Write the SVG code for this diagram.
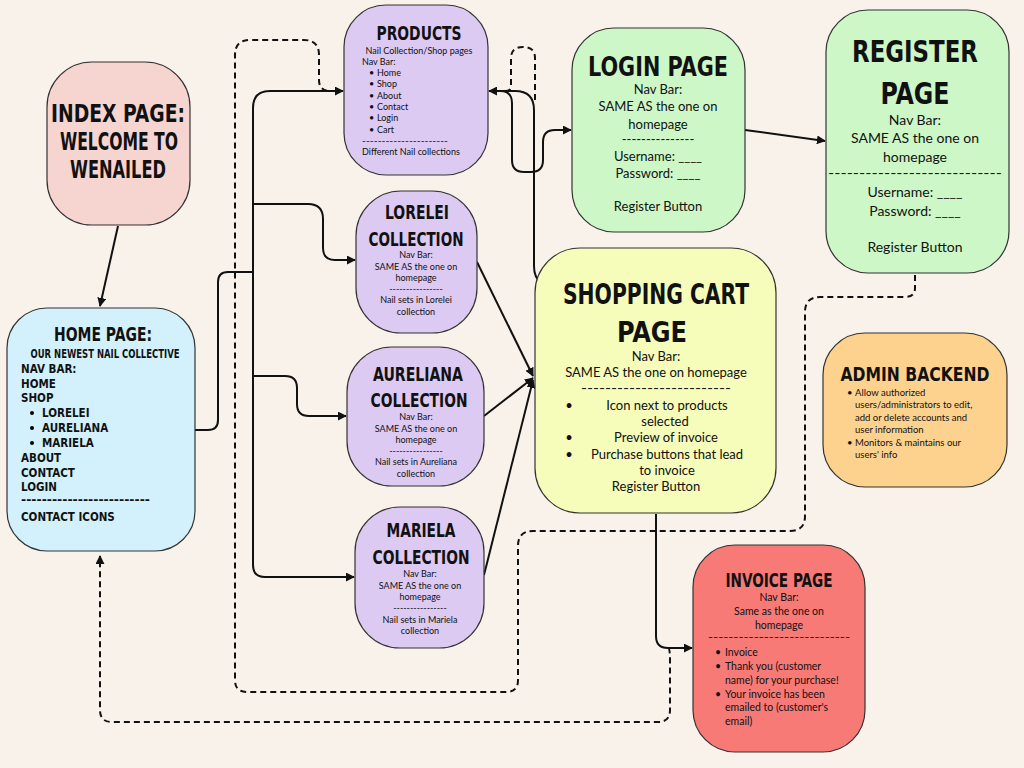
<svg xmlns="http://www.w3.org/2000/svg" width="1024" height="768" viewBox="0 0 1024 768">
<defs>
<marker id="ah" viewBox="0 0 10 10" refX="9" refY="5" markerWidth="9" markerHeight="9" markerUnits="userSpaceOnUse" orient="auto">
<path d="M0,0 L10,5 L0,10 Z" fill="#111"/>
</marker>
<style>
.node{stroke:#333;stroke-width:1.2}
.t{font-family:"Liberation Sans Narrow","DejaVu Sans Condensed","Liberation Sans",sans-serif;font-weight:bold;fill:#111;text-anchor:middle}
.b{font-family:Lato,"Noto Sans","Liberation Sans",sans-serif;fill:#111}
.c{text-anchor:middle}
.h{font-family:"Liberation Sans Narrow","DejaVu Sans Condensed","Liberation Sans",sans-serif;font-weight:bold;fill:#111;font-size:11.5px}
.ln{fill:none;stroke:#111;stroke-width:2}
.ds{fill:none;stroke:#111;stroke-width:2;stroke-dasharray:6 4}
.pur{fill:#dccaf2}
.grn{fill:#cdf7c7}
</style>
</defs>
<rect width="1024" height="768" fill="#f9f2ea"/>

<g id="connectors">
<path class="ln" d="M118 226 L100 306" marker-end="url(#ah)"/>
<path class="ln" d="M195 430 L208 430 Q218 430 218 420 L218 282 Q218 272 228 272 L253 272"/>
<path class="ln" d="M253 565 L253 108 Q253 91 270 91 L343 91" marker-end="url(#ah)"/>
<path class="ln" d="M253 565 Q253 577 265 577 L354 577" marker-end="url(#ah)"/>
<path class="ln" d="M253 204 L308 204 Q323 204 323 219 L323 248 Q323 260 335 260 L355 260" marker-end="url(#ah)"/>
<path class="ln" d="M253 376 L285 376 Q297 376 297 388 L297 404 Q297 416 309 416 L346 416" marker-end="url(#ah)"/>
<path class="ln" d="M477 262 L533 376" marker-end="url(#ah)"/>
<path class="ln" d="M484 416 L533 378" marker-end="url(#ah)"/>
<path class="ln" d="M484 575 L533 380" marker-end="url(#ah)"/>
<path class="ln" d="M541 282 Q534 278 534 266 L534 110 Q534 91 515 91 L489 91" marker-end="url(#ah)"/>
<path class="ln" d="M500 91 Q512 91 512 103 L512 160 Q512 172 524 172 L531 172 Q543 172 543 160 L543 142 Q543 130 555 130 L571 130" marker-end="url(#ah)"/>
<path class="ds" d="M535 100 L535 58 Q535 47 523 47 Q511 47 511 58 L511 86 Q511 91 505 91"/>
<path class="ln" d="M745 130 L825 141" marker-end="url(#ah)"/>
<path class="ln" d="M656 514 L656 636 Q656 648 668 648 L692 648" marker-end="url(#ah)"/>
<path class="ds" d="M915 275 L915 288 Q915 297 905 297 L820 297 Q805 297 805 312 L805 516 Q805 531 790 531 L533 531 Q518 531 518 546 L518 680 Q518 692 506 692 L247 692 Q235 692 235 680 L235 55 Q235 40 250 40 L304 40 Q319 40 319 55 L319 80 Q319 91 330 91"/>
<path class="ds" d="M668 648 Q670 648 670 660 L670 710 Q670 722 658 722 L112 722 Q100 722 100 710 L100 556" marker-end="url(#ah)"/>
</g>

<g id="index">
<rect class="node" x="47" y="62" width="143" height="163" rx="45" fill="#f6d5d0"/>
<text class="t" x="118" y="122" font-size="24" textLength="134" lengthAdjust="spacingAndGlyphs">INDEX PAGE:</text>
<text class="t" x="119" y="150" font-size="24" textLength="118" lengthAdjust="spacingAndGlyphs">WELCOME TO</text>
<text class="t" x="118" y="178" font-size="24" textLength="96" lengthAdjust="spacingAndGlyphs">WENAILED</text>
</g>

<g id="home">
<rect class="node" x="7" y="308" width="188" height="243" rx="40" fill="#d2f1fd"/>
<text class="t" x="103" y="341" font-size="19" textLength="98" lengthAdjust="spacingAndGlyphs">HOME PAGE:</text>
<text class="h" x="105" y="358" text-anchor="middle" textLength="149" lengthAdjust="spacingAndGlyphs">OUR NEWEST NAIL COLLECTIVE</text>
<text class="h" x="21" y="373">NAV BAR:</text>
<text class="h" x="21" y="388">HOME</text>
<text class="h" x="21" y="402">SHOP</text>
<circle cx="32" cy="413" r="2"/>
<text class="h" x="42" y="417">LORELEI</text>
<circle cx="32" cy="428" r="2"/>
<text class="h" x="42" y="432">AURELIANA</text>
<circle cx="32" cy="443" r="2"/>
<text class="h" x="42" y="447">MARIELA</text>
<text class="h" x="21" y="462">ABOUT</text>
<text class="h" x="21" y="477">CONTACT</text>
<text class="h" x="21" y="491">LOGIN</text>
<text class="h" x="21" y="504" textLength="129" lengthAdjust="spacingAndGlyphs">-------------------------</text>
<text class="h" x="21" y="521">CONTACT ICONS</text>
</g>

<g id="products">
<rect class="node pur" x="344" y="5" width="144" height="170" rx="42"/>
<text class="t" x="419" y="40" font-size="20" textLength="85" lengthAdjust="spacingAndGlyphs">PRODUCTS</text>
<g class="b" font-size="9">
<text x="419" y="54" class="c">Nail Collection/Shop pages</text>
<text x="362" y="65">Nav Bar:</text>
<text x="369" y="76">•</text><text x="377" y="76">Home</text>
<text x="369" y="87">•</text><text x="377" y="87">Shop</text>
<text x="369" y="99">•</text><text x="377" y="99">About</text>
<text x="369" y="110">•</text><text x="377" y="110">Contact</text>
<text x="369" y="121">•</text><text x="377" y="121">Login</text>
<text x="369" y="133">•</text><text x="377" y="133">Cart</text>
<text x="362" y="144" textLength="86" lengthAdjust="spacingAndGlyphs">----------------------</text>
<text x="362" y="155">Different Nail collections</text>
</g>
</g>

<g id="lorelei">
<rect class="node pur" x="356" y="191" width="121" height="142" rx="45"/>
<text class="t" x="417" y="219" font-size="19" textLength="64" lengthAdjust="spacingAndGlyphs">LORELEI</text>
<text class="t" x="416" y="246" font-size="19" textLength="95" lengthAdjust="spacingAndGlyphs">COLLECTION</text>
<g class="b c" font-size="9" text-anchor="middle">
<text x="416" y="258">Nav Bar:</text>
<text x="416" y="270">SAME AS the one on</text>
<text x="416" y="281">homepage</text>
<text x="416" y="292">----------------</text>
<text x="416" y="303">Nail sets in Lorelei</text>
<text x="416" y="315">collection</text>
</g>
</g>

<g id="aureliana">
<rect class="node pur" x="347" y="347" width="137" height="139" rx="45"/>
<text class="t" x="418" y="381" font-size="19" textLength="90" lengthAdjust="spacingAndGlyphs">AURELIANA</text>
<text class="t" x="419" y="407" font-size="19" textLength="97" lengthAdjust="spacingAndGlyphs">COLLECTION</text>
<g class="b c" font-size="9" text-anchor="middle">
<text x="416" y="420">Nav Bar:</text>
<text x="416" y="432">SAME AS the one on</text>
<text x="416" y="443">homepage</text>
<text x="416" y="454">----------------</text>
<text x="416" y="465">Nail sets in Aureliana</text>
<text x="416" y="477">collection</text>
</g>
</g>

<g id="mariela">
<rect class="node pur" x="355" y="507" width="129" height="141" rx="45"/>
<text class="t" x="421" y="537" font-size="19" textLength="69" lengthAdjust="spacingAndGlyphs">MARIELA</text>
<text class="t" x="421" y="564" font-size="19" textLength="97" lengthAdjust="spacingAndGlyphs">COLLECTION</text>
<g class="b c" font-size="9" text-anchor="middle">
<text x="420" y="577">Nav Bar:</text>
<text x="420" y="589">SAME AS the one on</text>
<text x="420" y="600">homepage</text>
<text x="420" y="611">----------------</text>
<text x="420" y="623">Nail sets in Mariela</text>
<text x="420" y="634">collection</text>
</g>
</g>

<g id="login">
<rect class="node grn" x="572" y="28" width="173" height="204" rx="42"/>
<text class="t" x="658" y="76" font-size="27" textLength="140" lengthAdjust="spacingAndGlyphs">LOGIN PAGE</text>
<g class="b" font-size="13" text-anchor="middle">
<text x="658" y="94">Nav Bar:</text>
<text x="658" y="111">SAME AS the one on</text>
<text x="658" y="129">homepage</text>
<text x="658" y="144">---------------</text>
<text x="658" y="161">Username: ____</text>
<text x="658" y="178">Password: ____</text>
<text x="658" y="211">Register Button</text>
</g>
</g>

<g id="register">
<rect class="node grn" x="826" y="10" width="183" height="263" rx="42"/>
<text class="t" x="915" y="62" font-size="31" textLength="126" lengthAdjust="spacingAndGlyphs">REGISTER</text>
<text class="t" x="915" y="104" font-size="31" textLength="69" lengthAdjust="spacingAndGlyphs">PAGE</text>
<g class="b" font-size="14" text-anchor="middle">
<text x="915" y="125">Nav Bar:</text>
<text x="915" y="143">SAME AS the one on</text>
<text x="915" y="162">homepage</text>
<text x="915" y="178" textLength="174" lengthAdjust="spacingAndGlyphs">----------------------------</text>
<text x="915" y="197">Username: ____</text>
<text x="915" y="216">Password: ____</text>
<text x="915" y="252">Register Button</text>
</g>
</g>

<g id="cart">
<rect class="node" x="535" y="248" width="241" height="265" rx="45" fill="#f6fcb9"/>
<text class="t" x="656" y="304" font-size="29" textLength="186" lengthAdjust="spacingAndGlyphs">SHOPPING CART</text>
<text class="t" x="652" y="342" font-size="29" textLength="70" lengthAdjust="spacingAndGlyphs">PAGE</text>
<g class="b" font-size="13" text-anchor="middle">
<text x="656" y="361">Nav Bar:</text>
<text x="656" y="377">SAME AS the one on homepage</text>
<text x="656" y="393" textLength="150" lengthAdjust="spacingAndGlyphs">-------------------------</text>
<text x="569" y="410">•</text><text x="667" y="410">Icon next to products</text>
<text x="665" y="426">selected</text>
<text x="569" y="442">•</text><text x="666" y="442">Preview of invoice</text>
<text x="569" y="459">•</text><text x="667" y="459">Purchase buttons that lead</text>
<text x="667" y="475">to invoice</text>
<text x="656" y="491">Register Button</text>
</g>
</g>

<g id="admin">
<rect class="node" x="823" y="333" width="184" height="154" rx="42" fill="#fdd18e"/>
<text class="t" x="915" y="381" font-size="19" textLength="149" lengthAdjust="spacingAndGlyphs">ADMIN BACKEND</text>
<g class="b" font-size="9.5">
<text x="847" y="396">•</text><text x="855" y="396">Allow authorized</text>
<text x="855" y="408">users/administrators to edit,</text>
<text x="855" y="421">add or delete accounts and</text>
<text x="855" y="433">user information</text>
<text x="847" y="446">•</text><text x="855" y="446">Monitors &amp; maintains our</text>
<text x="855" y="458">users' info</text>
</g>
</g>

<g id="invoice">
<rect class="node" x="693" y="545" width="172" height="207" rx="42" fill="#f77a77"/>
<text class="t" x="779" y="587" font-size="20" textLength="107" lengthAdjust="spacingAndGlyphs">INVOICE PAGE</text>
<g class="b" font-size="10.5">
<text x="779" y="601" text-anchor="middle">Nav Bar:</text>
<text x="779" y="615" text-anchor="middle">Same as the one on</text>
<text x="779" y="629" text-anchor="middle">homepage</text>
<text x="779" y="641" text-anchor="middle" textLength="142" lengthAdjust="spacingAndGlyphs">----------------------------</text>
<text x="715" y="656">•</text><text x="725" y="656">Invoice</text>
<text x="715" y="670">•</text><text x="725" y="670">Thank you (customer</text>
<text x="725" y="684">name) for your purchase!</text>
<text x="715" y="698">•</text><text x="725" y="698">Your invoice has been</text>
<text x="725" y="711">emailed to (customer's</text>
<text x="725" y="725">email)</text>
</g>
</g>
</svg>
